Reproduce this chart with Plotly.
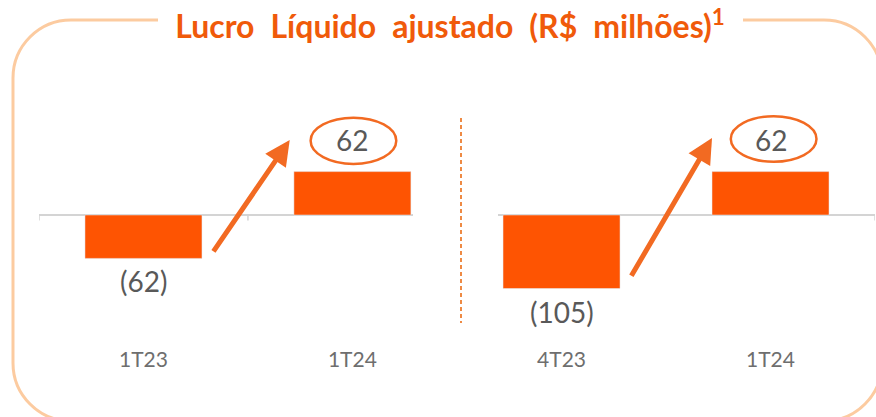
import plotly.graph_objects as go

W, H = 876, 417

# ---- data ----
left_categories = ["1T23", "1T24"]
left_values = [-62, 62]
right_categories = ["4T23", "1T24"]
right_values = [-105, 62]
title_words = ["Lucro", "Líquido", "ajustado", "(R$", "milhões)"]
title_text = "\u2002".join(title_words) + "<sup>1</sup>"

BAR = "#FE5402"
ORANGE = "#F05A0A"
ARROW = "#F26A22"
BORDER = "#FCCBA0"
TXT = "#595959"
CAT = "#6E6E6E"
FONT = "Lato"

def px_x(p):
    return p / W

def px_y(p):
    return 1 - p / H

# plot-area geometry
y_top_px, y_bot_px, zero_px, scale = 100, 345, 215, 0.70
y_range = [-(y_bot_px - zero_px) / scale, (zero_px - y_top_px) / scale]

fig = go.Figure()
fig.add_trace(go.Bar(x=left_categories, y=left_values, marker_color=BAR,
                     xaxis="x", yaxis="y", showlegend=False, hoverinfo="skip"))
fig.add_trace(go.Bar(x=right_categories, y=right_values, marker_color=BAR,
                     xaxis="x2", yaxis="y2", showlegend=False, hoverinfo="skip"))

axis_common = dict(type="category", showgrid=False, showline=False, ticks="",
                   tickfont=dict(family=FONT, size=21, color=CAT), fixedrange=True)
yaxis_common = dict(range=y_range, showgrid=False, showticklabels=False, zeroline=True,
                    zerolinecolor="#D4D4D4", zerolinewidth=1.5, showline=False,
                    domain=[px_y(y_bot_px), px_y(y_top_px)], fixedrange=True)

fig.update_layout(
    width=W, height=H,
    margin=dict(l=0, r=0, t=0, b=0),
    paper_bgcolor="white", plot_bgcolor="rgba(0,0,0,0)",
    bargap=0.44,
    xaxis=dict(axis_common, domain=[px_x(39), px_x(413)], range=[-0.5, 1.29], anchor="y"),
    yaxis=dict(yaxis_common, anchor="x"),
    xaxis2=dict(axis_common, domain=[px_x(498), px_x(875)], range=[-0.304, 1.5], anchor="y2"),
    yaxis2=dict(yaxis_common, anchor="x2"),
    title=dict(text=title_text, x=px_x(450), y=px_y(27), xref="paper", yref="paper",
               xanchor="center", yanchor="middle",
               font=dict(family=FONT, size=32, color=ORANGE, weight="bold")),
)

# value labels
def add_labels(cats, vals, xr, yr):
    for c, v in zip(cats, vals):
        txt = f"({abs(v)})" if v < 0 else f"{v}"
        fig.add_annotation(x=c, y=v, xref=xr, yref=yr, text=txt, showarrow=False,
                           yanchor="top" if v < 0 else "bottom",
                           yshift=-4 if v < 0 else 13,
                           font=dict(family=FONT, size=28, color=TXT))

add_labels(left_categories, left_values, "x", "y")
add_labels(right_categories, right_values, "x2", "y2")

# small ticks on the zero line
for xv, xr, yr in [(-0.5, "x", "y"), (0.5, "x", "y"), (1.5, "x2", "y2")]:
    fig.add_shape(type="line", xref=xr, yref=yr, x0=xv, x1=xv, y0=0, y1=-8,
                  line=dict(color="#D4D4D4", width=1.5))

# arrows
fig.add_annotation(xref="x", yref="y", axref="x", ayref="y",
                   x=0.70, y=107, ax=0.33, ay=-54, text="", showarrow=True,
                   arrowhead=2, arrowsize=1.0, arrowwidth=5, arrowcolor=ARROW)
fig.add_annotation(xref="x2", yref="y2", axref="x2", ayref="y2",
                   x=0.72, y=110, ax=0.33, ay=-89, text="", showarrow=True,
                   arrowhead=2, arrowsize=1.0, arrowwidth=5, arrowcolor=ARROW)

# ellipses around the positive values
fig.add_shape(type="circle", xref="x", yref="y", x0=0.80, x1=1.21, y0=73, y1=139,
              line=dict(color=ARROW, width=2.5))
fig.add_shape(type="circle", xref="x2", yref="y2", x0=0.81, x1=1.22, y0=76, y1=141,
              line=dict(color=ARROW, width=2.5))

# dashed separator
fig.add_shape(type="line", xref="paper", yref="paper", x0=px_x(461), x1=px_x(461),
              y0=px_y(118), y1=px_y(323), line=dict(color="#EE8A44", width=2, dash="4px,3px"))

# rounded border interrupted by title
L, R, T, B, r = 13, 882, 20, 421, 58
k = 0.5523 * r
def P(x, y):
    return f"{px_x(x):.5f},{px_y(y):.5f}"
path = (f"M {P(158, T)} L {P(L + r, T)} "
        f"C {P(L + r - k, T)} {P(L, T + r - k)} {P(L, T + r)} "
        f"L {P(L, B - r)} "
        f"C {P(L, B - r + k)} {P(L + r - k, B)} {P(L + r, B)} "
        f"L {P(R - r, B)} "
        f"C {P(R - r + k, B)} {P(R, B - r + k)} {P(R, B - r)} "
        f"L {P(R, T + r)} "
        f"C {P(R, T + r - k)} {P(R - r + k, T)} {P(R - r, T)} "
        f"L {P(743, T)}")
fig.add_shape(type="path", xref="paper", yref="paper", path=path,
              line=dict(color=BORDER, width=3), layer="below")

fig.write_html("out.html", config={"displayModeBar": False},
               post_script="document.body.style.margin='0px';document.body.style.overflow='hidden';")
